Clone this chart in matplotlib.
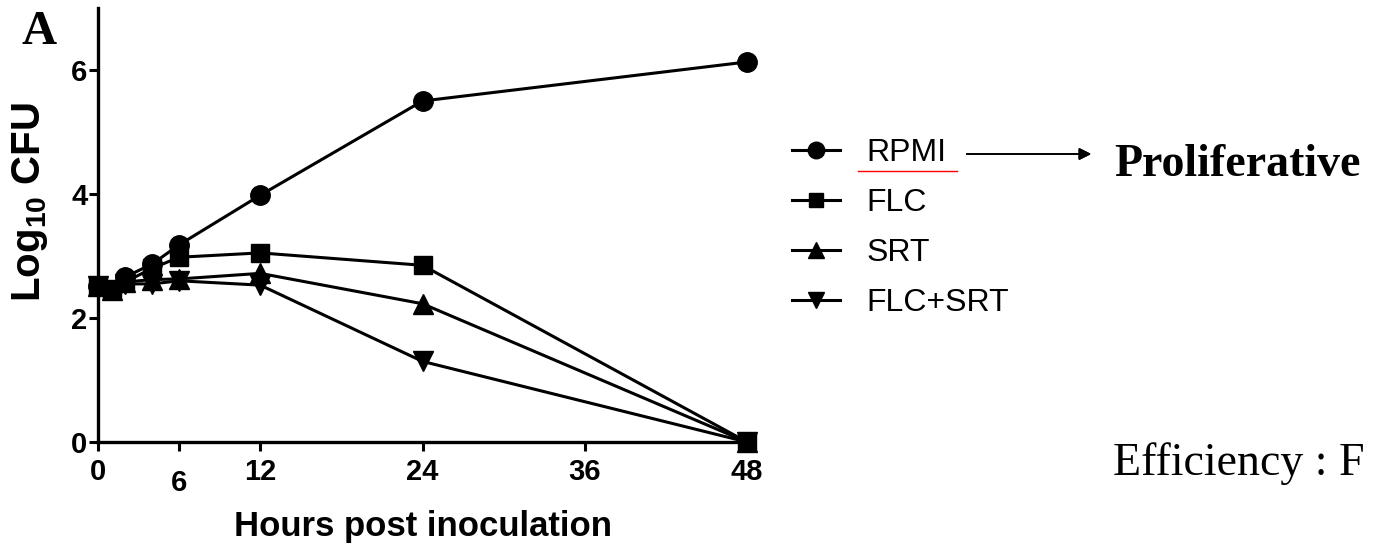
import matplotlib
matplotlib.use("Agg")
import matplotlib.pyplot as plt
from matplotlib.lines import Line2D
from matplotlib.transforms import ScaledTranslation

plt.rcParams['font.family'] = ['Liberation Sans', 'DejaVu Sans']
plt.rcParams['mathtext.fontset'] = 'custom'
plt.rcParams['mathtext.rm'] = 'Liberation Sans:bold'
plt.rcParams['mathtext.bf'] = 'Liberation Sans:bold'

# hours post inoculation
hours = [0, 1, 2, 4, 6, 12, 24, 48]
rpmi = [2.52, 2.45, 2.66, 2.87, 3.18, 3.98, 5.50, 6.13]
flc = [2.52, 2.45, 2.58, 2.80, 2.98, 3.05, 2.85, 0.0]
srt = [2.52, 2.45, 2.58, 2.62, 2.63, 2.72, 2.23, 0.0]
flc_srt = [2.52, 2.45, 2.55, 2.55, 2.60, 2.53, 1.30, 0.0]

series = [("RPMI", rpmi, "o", 14), ("FLC", flc, "s", 12.5),
          ("SRT", srt, "^", 14), ("FLC+SRT", flc_srt, "v", 14)]
xticks = [0, 6, 12, 24, 36, 48]
yticks = [0, 2, 4, 6]

W, H = 1373, 546
fig = plt.figure(figsize=(W / 100, H / 100), dpi=100)
ax = fig.add_axes([98 / W, 1 - 442 / H, (747 - 98) / W, 434 / H])

for name, vals, mk, ms in series:
    ax.plot(hours, vals, color="black", lw=2.2, marker=mk, markersize=ms,
            label=name, clip_on=False)

ax.set_xlim(0, 48)
ax.set_ylim(0, 7)
ax.set_xticks(xticks)
ax.set_yticks(yticks)
for side in ["top", "right"]:
    ax.spines[side].set_visible(False)
for side in ["left", "bottom"]:
    ax.spines[side].set_linewidth(2.4)
ax.tick_params(direction="out", length=6.5, width=2.2, labelsize=21)
ax.tick_params(axis="x", pad=5)
ax.tick_params(axis="y", pad=1)
for lbl in ax.get_xticklabels() + ax.get_yticklabels():
    lbl.set_fontweight("bold")

ax.set_xlabel("Hours post inoculation", fontsize=25, fontweight="bold", labelpad=9)
ax.set_ylabel(r"Log$_{10}$ CFU", fontsize=29, fontweight="bold")
ax.yaxis.set_label_coords((50 - 98) / 649, (442 - 202) / 434)

# the "6" tick label sits lower than the others
six = ax.get_xticklabels()[1]
six.set_transform(six.get_transform() + ScaledTranslation(0, -8 / 72, fig.dpi_scale_trans))

ax.legend(loc="upper left", bbox_to_anchor=(792 / W, 1 - 138 / H), bbox_transform=fig.transFigure,
          frameon=False, fontsize=23, handlelength=1.5, handletextpad=0.84,
          labelspacing=0.63, markerscale=0.85, borderpad=0, borderaxespad=0)

# red squiggle-style underline under RPMI
fig.add_artist(Line2D([858 / W, 957 / W], [1 - 171 / H, 1 - 171 / H], color="red", lw=1.0))

# arrow to "Proliferative"
fig.add_artist(plt.annotate("", xy=(1094 / W, 1 - 154 / H), xytext=(964 / W, 1 - 154 / H),
                            xycoords="figure fraction", textcoords="figure fraction",
                            arrowprops=dict(arrowstyle="-|>", color="black", lw=1.2,
                                            mutation_scale=18)))
fig.text(1114 / W, 1 - 176 / H, "Proliferative", fontsize=33, fontweight="bold",
         family="Liberation Serif", va="baseline", ha="left")
fig.text(1113 / W, 1 - 475 / H, "Efficiency : F", fontsize=33,
         family="Liberation Serif", va="baseline", ha="left")
fig.text(21 / W, 1 - 44 / H, "A", fontsize=35, fontweight="bold",
         family="Liberation Serif", va="baseline", ha="left")

fig.savefig("out.png", dpi=100)
